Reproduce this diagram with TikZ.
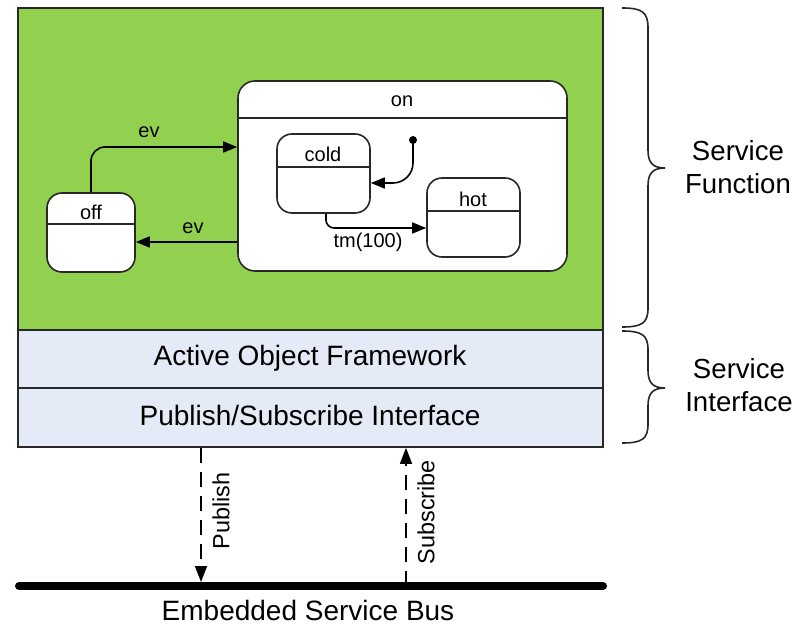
\documentclass[tikz,border=0pt]{standalone}
\usepackage{fontspec}
\setmainfont{Liberation Sans}
\usetikzlibrary{arrows.meta,fit}
\definecolor{funcgreen}{RGB}{146,208,80}
\definecolor{ifblue}{RGB}{228,234,246}
\definecolor{edge}{RGB}{40,40,40}

\begin{document}
\begin{tikzpicture}[x=0.5pt,y=-0.5pt,
  layer/.style={draw=edge, line width=0.8pt, inner sep=0pt},
  state/.style={draw=edge, fill=white, line width=0.8pt, rounded corners=7.5pt, inner sep=0pt},
  small/.style={font=\fontsize{10}{12}\selectfont, inner sep=0pt},
  trans/.style={draw=black, line width=0.8pt, -{Triangle[length=7pt,width=5.5pt]}},
  bigtext/.style={font=\fontsize{14}{16}\selectfont, inner sep=0pt},
  sidetext/.style={font=\fontsize{13.8}{16.5}\selectfont, align=center, inner sep=0pt},
  busflow/.style={line width=0.8pt, dash pattern=on 7.5pt off 4.5pt, -{Triangle[length=8pt,width=6pt]}},
  flowtext/.style={font=\fontsize{11.7}{14}\selectfont, rotate=90, inner sep=0pt},
  brace/.style={draw=edge, line width=0.8pt},
]
\useasboundingbox (0,0) rectangle (802,625);

% service layers
\node[layer, fill=funcgreen, fit={(18,8) (603,330)}] (func) {};
\node[layer, fill=ifblue, fit={(18,330) (603,388)}] (aof) {};
\node[layer, fill=ifblue, fit={(18,388) (603,447)}] (psi) {};
\node[bigtext] (aoftext) at (310,358) {Active Object Framework};
\node[bigtext] (psitext) at (310,415) {Publish/Subscribe Interface};

% state machine
\node[state, rounded corners=8.5pt, fit={(238,81) (567,271)}] (on) {};
\draw[edge, line width=0.8pt] (on.west |- 0,118) -- (on.east |- 0,118);
\node[small] (ontext) at (402,101) {on};

\node[state, fit={(47,193) (135,272)}] (off) {};
\draw[edge, line width=0.8pt] (off.west |- 0,224) -- (off.east |- 0,224);
\node[small] (offtext) at (91,212) {off};

\node[state, fit={(277,134) (370,213)}] (cold) {};
\draw[edge, line width=0.8pt] (cold.west |- 0,167) -- (cold.east |- 0,167);
\node[small] (coldtext) at (323,154) {cold};

\node[state, fit={(427,178) (520,257)}] (hot) {};
\draw[edge, line width=0.8pt] (hot.west |- 0,211) -- (hot.east |- 0,211);
\node[small] (hottext) at (473,199) {hot};

\node[circle, fill=black, inner sep=0pt, minimum size=4pt] (init) at (413,140) {};

% transitions
\draw[trans, rounded corners=7pt] (off.north) |- (on.west |- 0,147);
\node[small] (ev1) at (149,132) {ev};
\draw[trans] (on.west |- 0,242) -- (off.east |- 0,242);
\node[small] (ev2) at (193,228) {ev};
\draw[trans, rounded corners=10pt] (init.center) |- (cold.east |- 0,183);
\draw[trans, rounded corners=4pt] (cold.south -| 326,0) |- (hot.west |- 0,228);
\node[small] (tm) at (368,242) {tm(100)};

% braces
\draw[brace] (622,8) .. controls (642,8) and (648,12) .. (648,28) -- (648,150)
  .. controls (648,162) and (652,168) .. (665,168)
  .. controls (652,168) and (648,174) .. (648,186) -- (648,308)
  .. controls (648,323) and (642,327) .. (622,327);
\draw[brace] (622,331) .. controls (642,331) and (648,335) .. (648,350) -- (648,370)
  .. controls (648,382) and (652,388) .. (665,388)
  .. controls (652,388) and (648,394) .. (648,406) -- (648,424)
  .. controls (648,439) and (642,443) .. (622,443);
\node[sidetext] (sfunc) at (738,167) {Service\\Function};
\node[sidetext] (sif) at (739,385) {Service\\Interface};

% bus
\coordinate (busL) at (19,586);
\coordinate (busR) at (603,586);
\draw[line width=4pt, line cap=round] (busL) -- (busR);
\node[bigtext] (bustext) at (308,610) {Embedded Service Bus};

\draw[busflow, shorten >=2pt] (psi.south -| 201,0) -- (201,0 |- busL);
\draw[busflow] (406,0 |- busL) -- (psi.south -| 406,0);
\node[flowtext] (pub) at (221,511) {Publish};
\node[flowtext] (sub) at (426,512) {Subscribe};
\end{tikzpicture}
\end{document}
